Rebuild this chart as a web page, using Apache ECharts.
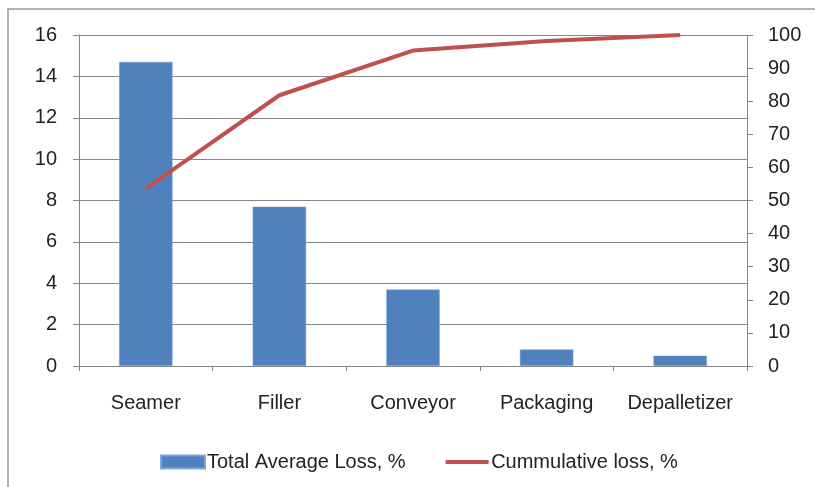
<!DOCTYPE html>
<html>
<head>
<meta charset="utf-8">
<script src="https://cdn.jsdelivr.net/npm/echarts@6/dist/echarts.min.js"></script>
<style>
  html, body { margin: 0; padding: 0; background: #fff; }
</style>
</head>
<body>
<div id="myChart" style="width:815px;height:487px;"></div>
<script>
// categories and values
var categories = ["Seamer", "Filler", "Conveyor", "Packaging", "Depalletizer"];
var avgLoss = [14.7, 7.7, 3.7, 0.8, 0.5];
var cumLoss = [53.6, 81.8, 95.3, 98.2, 100];

var font = "Liberation Sans";
var gray = "#868686";

var chart = echarts.init(document.getElementById("myChart"));
chart.setOption({
  animation: false,
  textStyle: { fontFamily: font },
  graphic: [{
    type: "rect",
    shape: { x: 8, y: 9, width: 830, height: 500 },
    style: { fill: "none", stroke: "#9a9a9a", lineWidth: 1.5 },
    silent: true
  }],
  grid: { left: 79, right: 68, top: 35, bottom: 121 },
  legend: {
    bottom: 10,
    left: 155,
    itemWidth: 44,
    itemHeight: 13,
    itemGap: 40,
    textStyle: { fontSize: 20, color: "#222", fontFamily: font, padding: [0, 0, 0, -3] },
    data: [
      { name: "Total Average Loss, %", icon: "rect" },
      { name: "Cummulative loss, %", icon: "path://M0,0 M43,13 M0,4.5 L43,4.5 L43,8.5 L0,8.5 Z",
        itemStyle: { color: "#C0504D" } }
    ]
  },
  xAxis: {
    type: "category",
    data: categories,
    axisLine: { lineStyle: { color: gray } },
    axisTick: { show: true, interval: 0, length: 5, lineStyle: { color: gray } },
    axisLabel: { interval: 0, color: "#222", fontSize: 20, margin: 27 }
  },
  yAxis: [
    {
      type: "value",
      min: 0, max: 16, interval: 2,
      axisLine: { show: true, lineStyle: { color: gray } },
      axisTick: { show: true, length: 6, lineStyle: { color: gray } },
      axisLabel: { color: "#222", fontSize: 20, margin: 22 },
      splitLine: { lineStyle: { color: gray, width: 1 } }
    },
    {
      type: "value",
      min: 0, max: 100, interval: 10,
      position: "right",
      axisLine: { show: true, lineStyle: { color: gray } },
      axisTick: { show: true, length: 6, lineStyle: { color: gray } },
      axisLabel: { color: "#222", fontSize: 20, margin: 21 },
      splitLine: { show: false }
    }
  ],
  series: [
    {
      name: "Total Average Loss, %",
      type: "bar",
      data: avgLoss,
      barWidth: "40%",
      itemStyle: { color: "#4F81BD", borderColor: "#7fa6d6", borderWidth: 0.5 }
    },
    {
      name: "Cummulative loss, %",
      type: "line",
      yAxisIndex: 1,
      data: cumLoss,
      symbol: "none",
      lineStyle: { color: "#C0504D", width: 4 },
      itemStyle: { color: "#C0504D" }
    }
  ]
});
</script>
</body>
</html>
